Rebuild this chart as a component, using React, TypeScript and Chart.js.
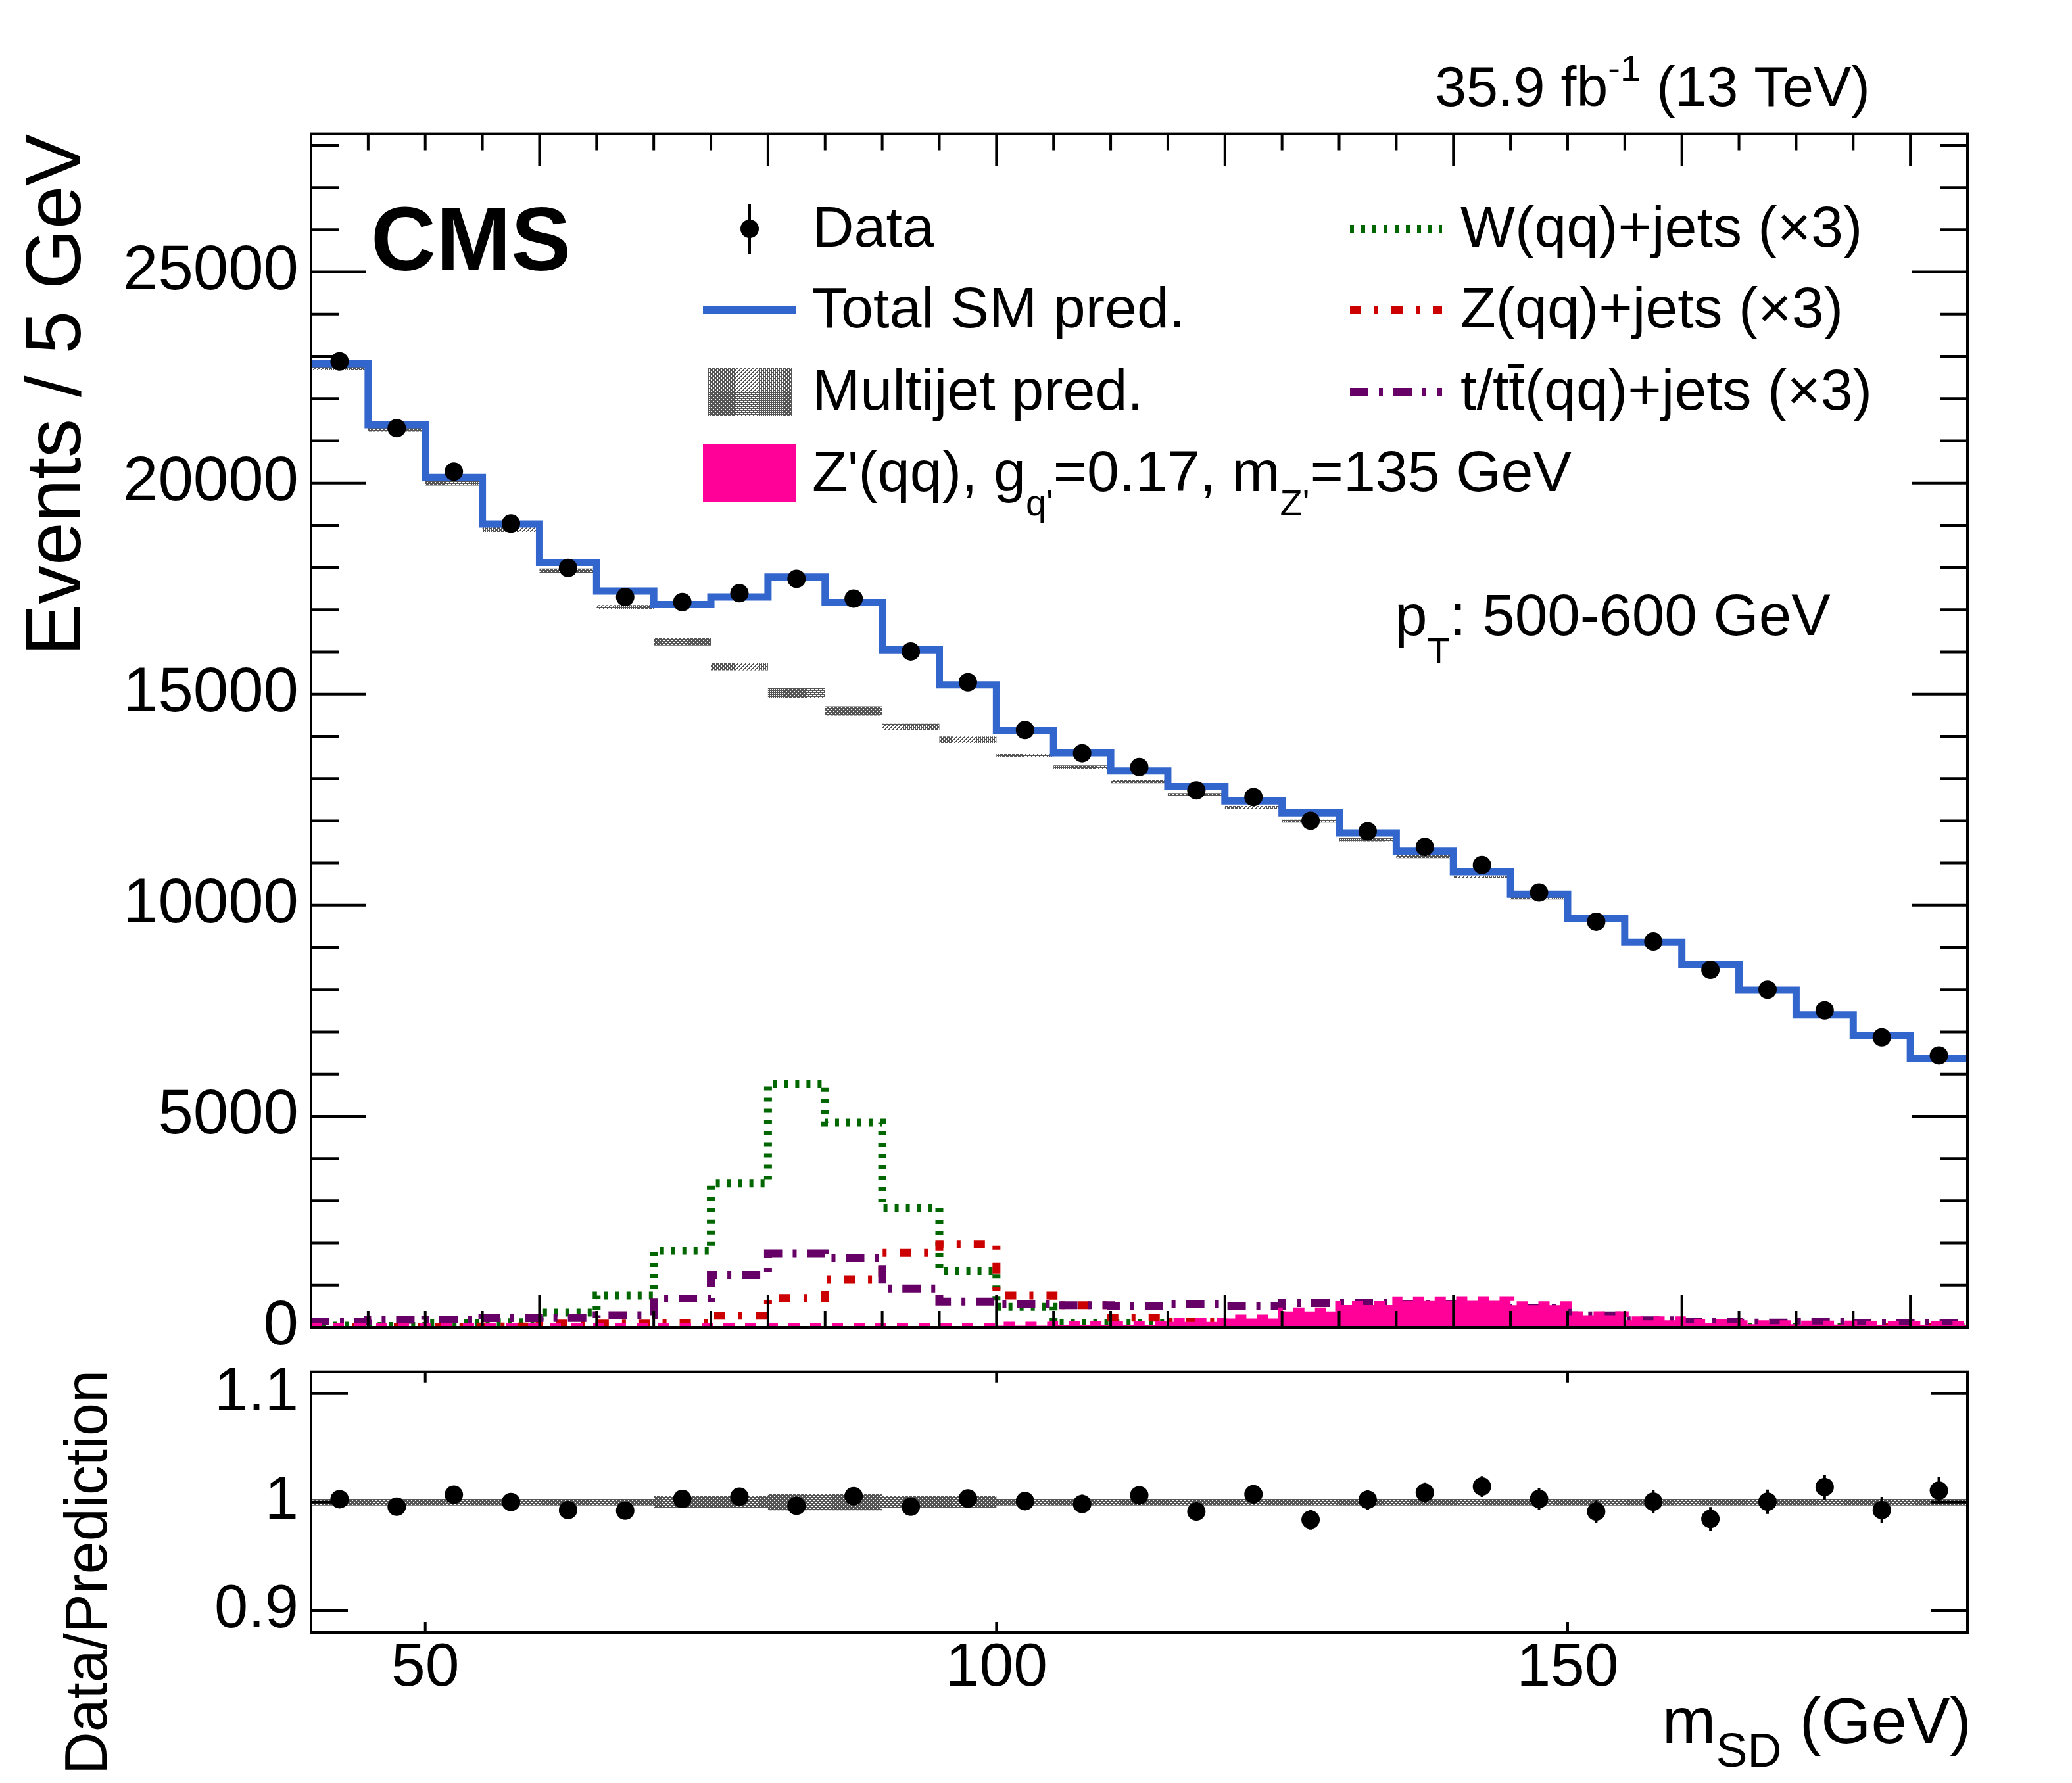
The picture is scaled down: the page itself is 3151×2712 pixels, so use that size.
import React, { useEffect, useRef } from 'react';
import { Chart, registerables } from 'chart.js';

Chart.register(...registerables);

// ---------------- data ----------------
const massEdges = [40, 45, 50, 55, 60, 65, 70, 75, 80, 85, 90, 95, 100, 105, 110, 115, 120, 125, 130, 135, 140, 145, 150, 155, 160, 165, 170, 175, 180, 185];
const xMajorTicksMain = [60, 80, 100, 120, 140, 160, 180];
const yTicksMain = [0, 5000, 10000, 15000, 20000, 25000];
const xTicksRatio = [50, 100, 150];
const yTicksRatio = [0.9, 1, 1.1];

const dataCounts = [22880, 21300, 20270, 19040, 17990, 17300, 17180, 17390, 17730, 17260, 16010, 15280, 14150, 13600, 13270, 12720, 12560, 12000, 11750, 11380, 10950, 10300, 9610, 9140, 8470, 8000, 7510, 6870, 6440];
const totalPred = [22830, 21380, 20130, 19030, 18120, 17440, 17120, 17300, 17770, 17170, 16050, 15220, 14130, 13610, 13180, 12810, 12470, 12190, 11710, 11280, 10790, 10260, 9680, 9120, 8590, 7990, 7400, 6910, 6370];
const multijetPred = [22740, 21280, 20000, 18900, 17920, 17060, 16240, 15650, 15030, 14600, 14220, 13920, 13540, 13270, 12930, 12620, 12310, 11990, 11550, 11150, 10670, 10165, 9620, 9080, 8550, 7960, 7370, 6880, 6350];
const predRelUnc = [0.003, 0.003, 0.003, 0.003, 0.003, 0.003, 0.0055, 0.0055, 0.0075, 0.0075, 0.0055, 0.0055, 0.003, 0.003, 0.003, 0.003, 0.003, 0.003, 0.003, 0.003, 0.003, 0.003, 0.003, 0.003, 0.003, 0.003, 0.003, 0.003, 0.003];
const wJetsX3 = [40, 30, 110, 120, 350, 755, 1815, 3405, 5760, 4850, 2820, 1340, 485, 110, 105, 0, 0, 0, 0, 0, 0, 0, 0, 0, 0, 0, 0, 0, 0];
const zJetsX3 = [10, 10, 15, 20, 88, 90, 110, 275, 695, 1130, 1765, 1975, 755, 525, 230, 130, 0, 0, 0, 0, 0, 0, 0, 0, 0, 0, 0, 0, 0];
const topJetsX3 = [140, 180, 187, 218, 223, 290, 684, 1244, 1752, 1643, 923, 610, 552, 524, 498, 550, 503, 575, 575, 555, 520, 450, 285, 166, 140, 114, 140, 98, 92];
const zprimeSignal = [0, 0, 0, 0, 0, 0, 0, 0, 0, 0, 0, 0, 40, 45, 50, 130, 212, 378, 529, 627, 632, 524, 290, 166, 98, 73, 67, 62, 55];
const ratioValues = [1.0027, 0.9958, 1.0068, 1.0001, 0.9927, 0.9922, 1.0029, 1.005, 0.9966, 1.0055, 0.9958, 1.0034, 1.0009, 0.9983, 1.0063, 0.9914, 1.0073, 0.9838, 1.0022, 1.0088, 1.0144, 1.0029, 0.9914, 1.0004, 0.9846, 1.0004, 1.0139, 0.9927, 1.0106];
const ratioErrors = [0.0066, 0.0069, 0.007, 0.0072, 0.0075, 0.0076, 0.0076, 0.0076, 0.0075, 0.0076, 0.0079, 0.0081, 0.0084, 0.0086, 0.0087, 0.0089, 0.0089, 0.0091, 0.0092, 0.0094, 0.0096, 0.0098, 0.0102, 0.0105, 0.0109, 0.0112, 0.0115, 0.0121, 0.0125];

const xMin = 40;
const xMax = 185;
const yMaxMain = 28270;
const ratioMin = 0.88;
const ratioMax = 1.12;

// ---------------- layout / style ----------------
const PAGE_W = 3151;
const PAGE_H = 2712;
const FRAME_L = 473;
const FRAME_R = 2992;
const MAIN_T = 203.6;
const MAIN_B = 2019;
const RATIO_T = 2086.7;
const RATIO_B = 2483;

const FONT = '"Liberation Sans", Arial, Helvetica, sans-serif';
const BLUE = '#3366cc';
const PINK = '#ff0099';
const GREEN = '#006600';
const RED = '#cc0000';
const PURPLE = '#660066';
const DASH_W = [6, 11];
const DASH_Z = [17, 20, 6, 20];
const DASH_T = [28, 16, 6, 16];
const DASH_SIG = [17, 16];

type Seg = { t: string; size: number; dy?: number; bold?: boolean };

function segFont(s: Seg) {
  return `${s.bold ? 'bold ' : ''}${s.size}px ${FONT}`;
}
function richWidth(ctx: CanvasRenderingContext2D, segs: Seg[]) {
  let w = 0;
  for (const s of segs) {
    ctx.font = segFont(s);
    w += ctx.measureText(s.t).width;
  }
  return w;
}
function drawRich(ctx: CanvasRenderingContext2D, segs: Seg[], x: number, y: number, align: 'left' | 'right' = 'left') {
  let cx = align === 'left' ? x : x - richWidth(ctx, segs);
  ctx.textAlign = 'left';
  ctx.textBaseline = 'alphabetic';
  ctx.fillStyle = '#000';
  for (const s of segs) {
    ctx.font = segFont(s);
    ctx.fillText(s.t, cx, y + (s.dy || 0));
    cx += ctx.measureText(s.t).width;
  }
}

function makePattern(): CanvasPattern | string {
  const c = document.createElement('canvas');
  c.width = 6;
  c.height = 6;
  const g = c.getContext('2d');
  if (!g) return '#888';
  g.fillStyle = '#555555';
  g.fillRect(0, 0, 6, 6);
  g.clearRect(1, 1, 2, 2);
  g.clearRect(4, 4, 2, 2);
  g.clearRect(4, 1, 1, 1);
  g.clearRect(1, 4, 1, 1);
  return g.createPattern(c, 'repeat') || '#888';
}

const binCenters = dataCounts.map((_, i) => (massEdges[i] + massEdges[i + 1]) / 2);
function hist(vals: number[]) {
  const pts = vals.map((v, i) => ({ x: massEdges[i], y: v }));
  pts.push({ x: massEdges[vals.length], y: vals[vals.length - 1] });
  return pts;
}
const fixedTicks = (vals: number[]) => (s: any) => {
  s.ticks = vals.map((value) => ({ value }));
};

function lineDs(label: string, vals: number[], color: string, width: number, dash: number[], order: number, extra: any = {}) {
  return {
    type: 'line',
    label,
    data: hist(vals),
    stepped: true,
    borderColor: color,
    borderWidth: width,
    borderDash: dash,
    borderCapStyle: 'butt',
    borderJoinStyle: 'miter',
    pointRadius: 0,
    fill: false,
    order,
    ...extra,
  };
}

export default function App() {
  const mainRef = useRef<HTMLCanvasElement>(null);
  const ratioRef = useRef<HTMLCanvasElement>(null);

  useEffect(() => {
    if (!mainRef.current || !ratioRef.current) return;
    const pattern = makePattern();

    const mainDecor = {
      id: 'mainDecor',
      afterDatasetsDraw(chart: any) {
        const { ctx, chartArea: a, scales } = chart;
        const xs = scales.x;
        const ys = scales.y;
        ctx.save();
        ctx.strokeStyle = '#000';
        ctx.lineWidth = 4;
        ctx.lineCap = 'butt';
        ctx.beginPath();
        for (let v = 0; v <= ys.max; v += 1000) {
          const p = ys.getPixelForValue(v);
          const len = yTicksMain.includes(v) ? 84 : 42;
          ctx.moveTo(a.left, p);
          ctx.lineTo(a.left + len, p);
          ctx.moveTo(a.right, p);
          ctx.lineTo(a.right - len, p);
        }
        for (const e of massEdges.slice(1, -1)) {
          const p = xs.getPixelForValue(e);
          const len = xMajorTicksMain.includes(e) ? 49 : 25;
          ctx.moveTo(p, a.bottom);
          ctx.lineTo(p, a.bottom - len);
          ctx.moveTo(p, a.top);
          ctx.lineTo(p, a.top + len);
        }
        ctx.stroke();
        ctx.strokeRect(a.left, a.top, a.right - a.left, a.bottom - a.top);
        ctx.restore();
      },
      afterDraw(chart: any) {
        const ctx: CanvasRenderingContext2D = chart.ctx;
        ctx.save();
        drawRich(ctx, [{ t: 'CMS', size: 137, bold: true }], 564, 411);
        drawRich(ctx, [{ t: '35.9 fb', size: 86 }, { t: '-1', size: 56, dy: -38 }, { t: ' (13 TeV)', size: 86 }], 2844, 161, 'right');
        drawRich(ctx, [{ t: 'p', size: 89 }, { t: 'T', size: 56, dy: 43 }, { t: ': 500-600 GeV', size: 89 }], 2121, 966);
        ctx.save();
        ctx.translate(122, 204);
        ctx.rotate(-Math.PI / 2);
        drawRich(ctx, [{ t: 'Events / 5 GeV', size: 118 }], 0, 0, 'right');
        ctx.restore();

        // legend
        const base = [375, 498, 623, 747];
        const off = 27;
        ctx.strokeStyle = '#000';
        ctx.lineWidth = 4;
        ctx.beginPath();
        ctx.moveTo(1140, base[0] - off - 38);
        ctx.lineTo(1140, base[0] - off + 38);
        ctx.stroke();
        ctx.fillStyle = '#000';
        ctx.beginPath();
        ctx.arc(1140, base[0] - off, 14, 0, Math.PI * 2);
        ctx.fill();
        ctx.strokeStyle = BLUE;
        ctx.lineWidth = 12;
        ctx.beginPath();
        ctx.moveTo(1069, base[1] - off);
        ctx.lineTo(1211, base[1] - off);
        ctx.stroke();
        ctx.fillStyle = pattern as any;
        ctx.fillRect(1076, base[2] - off - 37, 128, 74);
        ctx.fillStyle = PINK;
        ctx.fillRect(1069, base[3] - off - 44, 142, 87);
        drawRich(ctx, [{ t: 'Data', size: 88 }], 1235, base[0]);
        drawRich(ctx, [{ t: 'Total SM pred.', size: 88 }], 1235, base[1]);
        drawRich(ctx, [{ t: 'Multijet pred.', size: 88 }], 1235, base[2]);
        drawRich(ctx, [
          { t: "Z'(qq), g", size: 88 },
          { t: "q'", size: 56, dy: 37 },
          { t: '=0.17, m', size: 88 },
          { t: "Z'", size: 56, dy: 37 },
          { t: '=135 GeV', size: 88 },
        ], 1235, base[3]);

        const rightLines: [string, number[], string][] = [
          [GREEN, DASH_W, 'W(qq)+jets (\u00d73)'],
          [RED, DASH_Z, 'Z(qq)+jets (\u00d73)'],
          [PURPLE, DASH_T, 't/tt\u0304(qq)+jets (\u00d73)'],
        ];
        rightLines.forEach(([col, dash, label], i) => {
          ctx.save();
          ctx.strokeStyle = col;
          ctx.lineWidth = 12;
          ctx.lineCap = 'butt';
          ctx.setLineDash(dash);
          ctx.beginPath();
          ctx.moveTo(2053, base[i] - off);
          ctx.lineTo(2193, base[i] - off);
          ctx.stroke();
          ctx.restore();
          drawRich(ctx, [{ t: label, size: 88 }], 2221, base[i]);
        });
        ctx.restore();
      },
    };

    const mainChart = new Chart(mainRef.current, {
      type: 'line',
      data: {
        datasets: [
          {
            type: 'line',
            label: 'Data',
            data: binCenters.map((x, i) => ({ x, y: dataCounts[i] })),
            showLine: false,
            pointRadius: 14,
            pointBackgroundColor: '#000',
            pointBorderWidth: 0,
            order: 0,
          },
          lineDs('Zprime', zprimeSignal, PINK, 12, DASH_SIG, 1, { fill: 'origin', backgroundColor: PINK }),
          lineDs('top', topJetsX3, PURPLE, 12, DASH_T, 2),
          lineDs('Z', zJetsX3, RED, 12, DASH_Z, 3),
          lineDs('W', wJetsX3, GREEN, 12, DASH_W, 4),
          lineDs('Total', totalPred, BLUE, 11, [], 5),
          lineDs('MultijetHi', multijetPred.map((v, i) => v * (1 + predRelUnc[i])), 'rgba(0,0,0,0)', 0, [], 6, { fill: '+1', backgroundColor: pattern }),
          lineDs('MultijetLo', multijetPred.map((v, i) => v * (1 - predRelUnc[i])), 'rgba(0,0,0,0)', 0, [], 7),
        ] as any,
      },
      options: {
        responsive: false,
        animation: false,
        devicePixelRatio: 1,
        events: [],
        layout: { padding: { left: 0, right: PAGE_W - FRAME_R, top: MAIN_T, bottom: PAGE_H - MAIN_B } },
        plugins: { legend: { display: false }, tooltip: { enabled: false } },
        scales: {
          x: { type: 'linear', min: xMin, max: xMax, display: false, offset: false },
          y: {
            type: 'linear',
            position: 'left',
            min: 0,
            max: yMaxMain,
            afterBuildTicks: fixedTicks(yTicksMain),
            afterFit: (s: any) => { s.width = FRAME_L; },
            grid: { display: false, drawTicks: false },
            border: { display: false },
            ticks: {
              padding: 19,
              color: '#000',
              font: { family: FONT, size: 96 },
              callback: (v: any) => String(v),
            },
          },
        },
      } as any,
      plugins: [mainDecor],
    });

    const ratioDecor = {
      id: 'ratioDecor',
      afterDatasetsDraw(chart: any) {
        const { ctx, chartArea: a, scales } = chart;
        const xs = scales.x;
        const ys = scales.y;
        ctx.save();
        ctx.strokeStyle = '#000';
        ctx.lineWidth = 4;
        ctx.beginPath();
        binCenters.forEach((c, i) => {
          const px = xs.getPixelForValue(c);
          ctx.moveTo(px, ys.getPixelForValue(ratioValues[i] - ratioErrors[i]));
          ctx.lineTo(px, ys.getPixelForValue(ratioValues[i] + ratioErrors[i]));
        });
        ctx.stroke();
        ctx.beginPath();
        for (const t of ys.ticks) {
          const p = ys.getPixelForValue(t.value);
          ctx.moveTo(a.left, p);
          ctx.lineTo(a.left + 56, p);
          ctx.moveTo(a.right, p);
          ctx.lineTo(a.right - 56, p);
        }
        for (const t of xs.ticks) {
          const p = xs.getPixelForValue(t.value);
          ctx.moveTo(p, a.bottom);
          ctx.lineTo(p, a.bottom - 16);
          ctx.moveTo(p, a.top);
          ctx.lineTo(p, a.top + 16);
        }
        ctx.stroke();
        ctx.strokeRect(a.left, a.top, a.right - a.left, a.bottom - a.top);
        ctx.restore();
      },
      afterDraw(chart: any) {
        const ctx: CanvasRenderingContext2D = chart.ctx;
        ctx.save();
        ctx.save();
        ctx.translate(162, 2084);
        ctx.rotate(-Math.PI / 2);
        drawRich(ctx, [{ t: 'Data/Prediction', size: 90 }], 0, 0, 'right');
        ctx.restore();
        drawRich(ctx, [{ t: 'm', size: 98 }, { t: 'SD', size: 72, dy: 36 }, { t: ' (GeV)', size: 98 }], 2998, 2651, 'right');
        ctx.restore();
      },
    };

    const ratioChart = new Chart(ratioRef.current, {
      type: 'line',
      data: {
        datasets: [
          {
            type: 'line',
            label: 'Ratio',
            data: binCenters.map((x, i) => ({ x, y: ratioValues[i] })),
            showLine: false,
            pointRadius: 14,
            pointBackgroundColor: '#000',
            pointBorderWidth: 0,
            order: 0,
          },
          lineDs('UncHi', predRelUnc.map((u) => 1 + u), 'rgba(0,0,0,0)', 0, [], 1, { fill: '+1', backgroundColor: pattern }),
          lineDs('UncLo', predRelUnc.map((u) => 1 - u), 'rgba(0,0,0,0)', 0, [], 2),
        ] as any,
      },
      options: {
        responsive: false,
        animation: false,
        devicePixelRatio: 1,
        events: [],
        layout: { padding: { left: 0, right: PAGE_W - FRAME_R, top: RATIO_T, bottom: 0 } },
        plugins: { legend: { display: false }, tooltip: { enabled: false } },
        scales: {
          x: {
            type: 'linear',
            min: xMin,
            max: xMax,
            offset: false,
            afterBuildTicks: fixedTicks(xTicksRatio),
            afterFit: (s: any) => { s.height = PAGE_H - RATIO_B; },
            grid: { display: false, drawTicks: false },
            border: { display: false },
            ticks: {
              padding: 0,
              maxRotation: 0,
              autoSkip: false,
              color: '#000',
              font: { family: FONT, size: 93 },
              callback: (v: any) => String(v),
            },
          },
          y: {
            type: 'linear',
            position: 'left',
            min: ratioMin,
            max: ratioMax,
            afterBuildTicks: fixedTicks(yTicksRatio),
            afterFit: (s: any) => { s.width = FRAME_L; },
            grid: { display: false, drawTicks: false },
            border: { display: false },
            ticks: {
              padding: 19,
              color: '#000',
              font: { family: FONT, size: 92 },
              callback: (v: any) => String(Number(Number(v).toFixed(2))),
            },
          },
        },
      } as any,
      plugins: [ratioDecor],
    });

    return () => {
      mainChart.destroy();
      ratioChart.destroy();
    };
  }, []);

  const cstyle: React.CSSProperties = { position: 'absolute', left: 0, top: 0, width: PAGE_W, height: PAGE_H, display: 'block' };
  return (
    <div style={{ position: 'fixed', left: 0, top: 0, width: PAGE_W, height: PAGE_H, background: '#fff', overflow: 'hidden' }}>
      <canvas ref={mainRef} width={PAGE_W} height={PAGE_H} style={cstyle} />
      <canvas ref={ratioRef} width={PAGE_W} height={PAGE_H} style={cstyle} />
    </div>
  );
}
